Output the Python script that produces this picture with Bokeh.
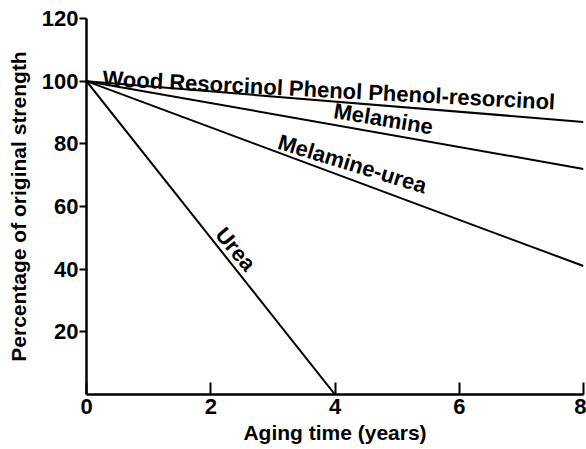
from bokeh.plotting import figure
from bokeh.models import Range1d, FixedTicker
from bokeh.core.properties import value
from bokeh.embed import file_html
from bokeh.resources import INLINE
import math

# Data
series_names = ["Wood Resorcinol Phenol Phenol-resorcinol", "Melamine", "Melamine-urea", "Urea"]
series_x = [[0, 8], [0, 8], [0, 8], [0, 4]]
series_y = [[100, 87], [100, 72], [100, 41], [100, 0]]

label_x = [0.26, 4.78, 4.28, 2.40]
label_y = [100.9, 88.0, 73.6, 46.4]
label_angle_deg = [-3.0, -9.5, -17.0, -50.0]
label_align = ["left", "center", "center", "center"]
label_baseline = ["alphabetic", "middle", "middle", "middle"]

x_ticks = [0, 2, 4, 6, 8]
y_ticks = [20, 40, 60, 80, 100, 120]

FONT = "Liberation Sans"

p = figure(width=586, height=449, output_backend="svg", toolbar_location=None,
           x_range=Range1d(0, 8), y_range=Range1d(0, 120),
           min_border_left=86, min_border_right=3, min_border_top=18, min_border_bottom=55)
p.outline_line_color = None
p.grid.grid_line_color = None
p.background_fill_color = "white"
p.border_fill_color = "white"

for xs, ys in zip(series_x, series_y):
    p.line(xs, ys, line_color="black", line_width=2)

for name, x, y, a, al, bl in zip(series_names, label_x, label_y, label_angle_deg, label_align, label_baseline):
    p.text(x=[x], y=[y], text=[name], angle=math.radians(a),
           text_font=value(FONT), text_font_style="bold", text_font_size="22px",
           text_align=al, text_baseline=bl, text_color="black")

# Axes
p.xaxis.ticker = FixedTicker(ticks=x_ticks)
p.yaxis.ticker = FixedTicker(ticks=y_ticks)
p.xaxis.axis_label = "Aging time (years)"
p.yaxis.axis_label = "Percentage of original strength"
for ax in [p.xaxis[0], p.yaxis[0]]:
    ax.axis_line_width = 2.5
    ax.axis_line_color = "black"
    ax.major_tick_line_width = 2
    ax.major_tick_line_color = "black"
    ax.minor_tick_line_color = None
    ax.major_label_text_font = FONT
    ax.major_label_text_font_style = "bold"
    ax.major_label_text_font_size = "22px"
    ax.major_label_text_color = "black"
    ax.axis_label_text_font = FONT
    ax.axis_label_text_font_style = "bold"
    ax.axis_label_text_font_size = "21px"
    ax.axis_label_text_color = "black"

p.xaxis.major_tick_in = 12
p.xaxis.major_tick_out = 0
p.xaxis.major_label_standoff = 4
p.xaxis.axis_label_standoff = 4

p.yaxis.major_tick_in = 0
p.yaxis.major_tick_out = 7
p.yaxis.major_label_standoff = 1
p.yaxis.axis_label_standoff = 9

open("out.html", "w").write(file_html(p, INLINE))
